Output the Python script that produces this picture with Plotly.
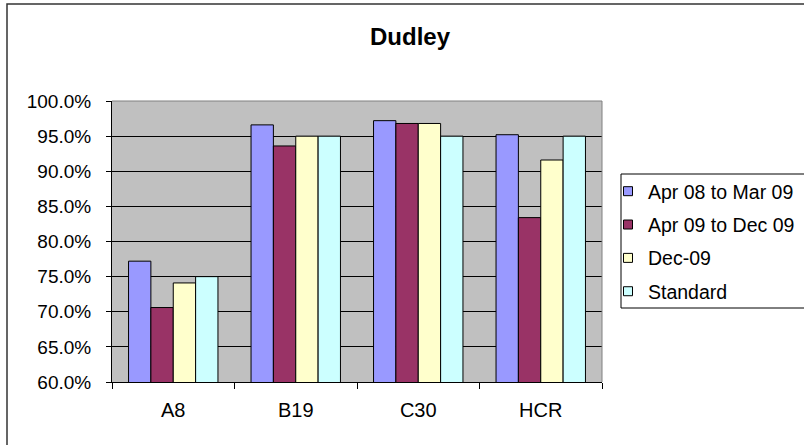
import plotly.graph_objects as go

# Road categories and performance by period
categories = ["A8", "B19", "C30", "HCR"]
series_names = ["Apr 08 to Mar 09", "Apr 09 to Dec 09", "Dec-09", "Standard"]
apr08_mar09 = [0.772, 0.966, 0.972, 0.952]
apr09_dec09 = [0.706, 0.936, 0.968, 0.834]
dec09 = [0.741, 0.950, 0.968, 0.916]
standard = [0.750, 0.950, 0.950, 0.950]
y_ticks = [0.60, 0.65, 0.70, 0.75, 0.80, 0.85, 0.90, 0.95, 1.00]

series_values = [apr08_mar09, apr09_dec09, dec09, standard]
colors = ["#9999FF", "#993366", "#FFFFCC", "#CCFFFF"]

W, H = 804, 445
ML, MR, MT, MB = 112, 202, 101, 63
PW, PH = W - ML - MR, H - MT - MB

FONT = "Arial, 'Liberation Sans', sans-serif"


def px_x(x):
    return (x - ML) / PW


def px_y(y):
    return (H - MB - y) / PH


fig = go.Figure()

for name, vals, col in zip(series_names, series_values, colors):
    fig.add_trace(go.Bar(
        x=categories, y=vals, name=name, showlegend=False,
        marker=dict(color=col, line=dict(color="black", width=1)),
    ))
    # legend swatch
    fig.add_trace(go.Scatter(
        x=[None], y=[None], mode="markers", name=name, legendgroup=name,
        marker=dict(symbol="square", size=9, color=col,
                    line=dict(color="black", width=1)),
    ))

shapes = [
    # plot-area frame (top and right edges)
    dict(type="line", xref="paper", yref="paper", x0=0, x1=1, y0=1, y1=1,
         line=dict(color="#808080", width=1), layer="above"),
    dict(type="line", xref="paper", yref="paper", x0=1, x1=1, y0=0, y1=1,
         line=dict(color="#808080", width=1), layer="above"),
    # chart border
    dict(type="rect", xref="paper", yref="paper",
         x0=px_x(7), x1=px_x(W + 20), y0=px_y(4), y1=px_y(H + 20),
         line=dict(color="#333333", width=1.5), fillcolor="rgba(0,0,0,0)",
         layer="below"),
    # legend box
    dict(type="rect", xref="paper", yref="paper",
         x0=px_x(621), x1=px_x(W + 20), y0=px_y(174), y1=px_y(308),
         line=dict(color="black", width=1), fillcolor="white", layer="below"),
]

fig.update_layout(
    width=W, height=H,
    margin=dict(l=ML, r=MR, t=MT, b=MB, autoexpand=False),
    paper_bgcolor="white",
    plot_bgcolor="#C0C0C0",
    barmode="group",
    bargap=0.27,
    bargroupgap=0,
    font=dict(family=FONT, color="black"),
    title=dict(text="<b>Dudley</b>", font=dict(size=24, family=FONT),
               x=410 / W, xanchor="center", xref="container",
               y=1 - 37 / H, yanchor="middle", yref="container"),
    legend=dict(x=px_x(608), xanchor="left", y=px_y(172), yanchor="top",
                bgcolor="rgba(0,0,0,0)", borderwidth=0,
                font=dict(size=19.5, family=FONT),
                tracegroupgap=5, itemsizing="trace"),
    shapes=shapes,
    xaxis=dict(
        showline=True, linecolor="black", linewidth=1,
        ticks="outside", tickson="boundaries", ticklen=6, tickcolor="black",
        tickfont=dict(size=20), ticklabelstandoff=10,
        showgrid=False,
    ),
    yaxis=dict(
        range=[0.6, 1.0], tickvals=y_ticks, tickformat=".1%",
        showline=True, linecolor="black", linewidth=1,
        ticks="outside", ticklen=5, tickcolor="black",
        tickfont=dict(size=19), ticklabelstandoff=11,
        showgrid=True, gridcolor="black", gridwidth=1,
        zeroline=False,
    ),
)

fig.write_html("out.html")
